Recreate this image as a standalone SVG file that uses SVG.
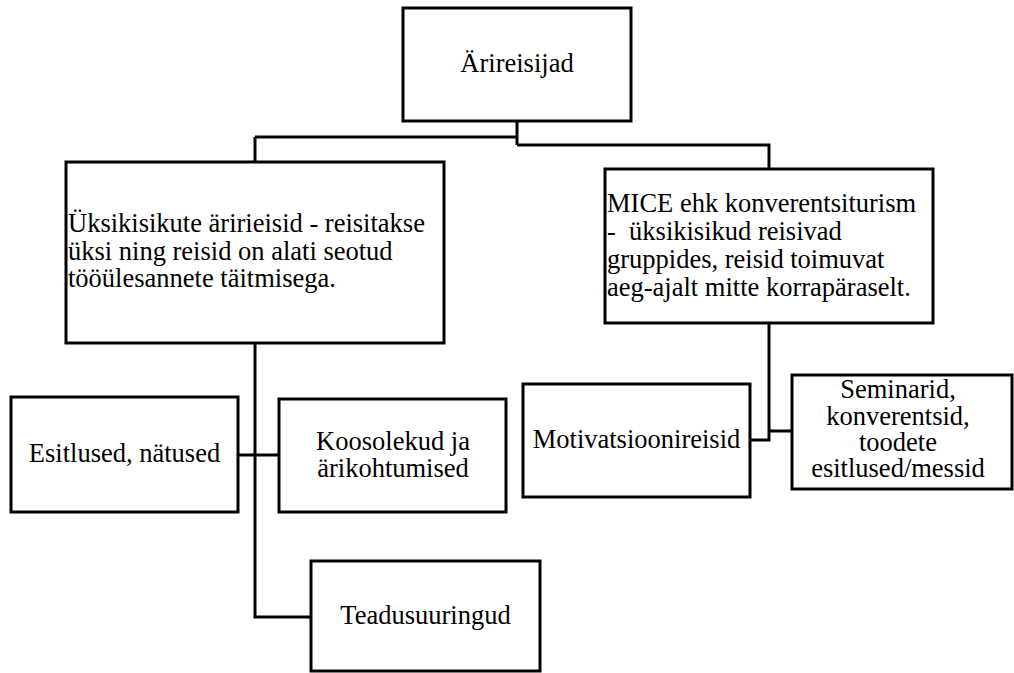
<svg xmlns="http://www.w3.org/2000/svg" width="1014" height="673" viewBox="0 0 1014 673">
<style>
.box{fill:#fff;stroke:#000;stroke-width:3}
.con{fill:none;stroke:#000;stroke-width:3}
text{font-family:"Liberation Serif","Times New Roman",serif;font-size:26.5px;fill:#000}
.c{text-anchor:middle}
</style>
<rect width="1014" height="673" fill="#fff"/>
<g id="connectors">
<path class="con" d="M517,121 V145 M255,137 H517 M255,137 V162 M517,145 H769 V169"/>
<path class="con" d="M255,343 V617 H311"/>
<path class="con" d="M238,455 H279"/>
<path class="con" d="M769,323 V440 H750 M769,431 H792"/>
</g>
<g id="n-arireisijad">
<rect class="box" x="403" y="8" width="228" height="113"/>
<text class="c" x="517" y="72">Ärireisijad</text>
</g>
<g id="n-uksik">
<rect class="box" x="66" y="162" width="378" height="181"/>
<text x="68" y="232">Üksikisikute äririeisid - reisitakse</text>
<text x="68" y="259.5">üksi ning reisid on alati seotud</text>
<text x="68" y="287">tööülesannete täitmisega.</text>
</g>
<g id="n-mice">
<rect class="box" x="605" y="169" width="328" height="154"/>
<text x="607" y="212">MICE ehk konverentsiturism</text>
<text x="607" y="240" style="white-space:pre">-  üksikisikud reisivad</text>
<text x="607" y="268">gruppides, reisid toimuvat</text>
<text x="607" y="296">aeg-ajalt mitte korrapäraselt.</text>
</g>
<g id="n-esitlused">
<rect class="box" x="11" y="397" width="227" height="115"/>
<text class="c" x="124.5" y="462">Esitlused, nätused</text>
</g>
<g id="n-koosolekud">
<rect class="box" x="279" y="399" width="227" height="113"/>
<text class="c" x="393" y="450">Koosolekud ja</text>
<text class="c" x="393" y="477">ärikohtumised</text>
</g>
<g id="n-teadus">
<rect class="box" x="311" y="561" width="229" height="110"/>
<text class="c" x="425.5" y="624">Teadusuuringud</text>
</g>
<g id="n-motivatsioon">
<rect class="box" x="523" y="384" width="227" height="113"/>
<text class="c" x="636.5" y="448">Motivatsioonireisid</text>
</g>
<g id="n-seminarid">
<rect class="box" x="792" y="375" width="220" height="114"/>
<text class="c" x="898" y="398">Seminarid,</text>
<text class="c" x="898" y="425">konverentsid,</text>
<text class="c" x="898" y="451">toodete</text>
<text class="c" x="898" y="477">esitlused/messid</text>
</g>
</svg>
